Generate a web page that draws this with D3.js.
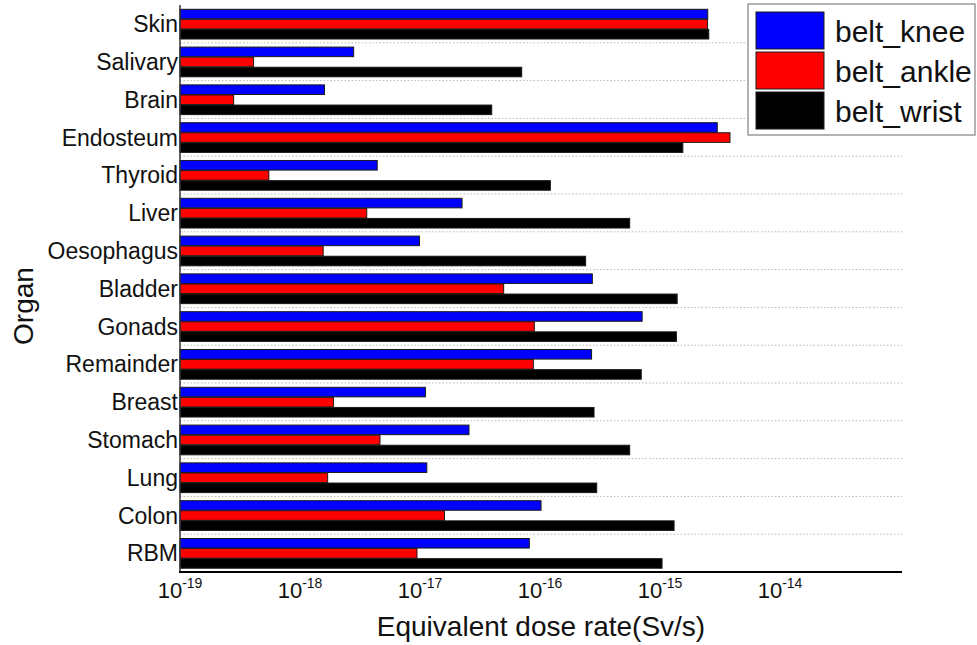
<!DOCTYPE html>
<html>
<head>
<meta charset="utf-8">
<script src="https://cdn.jsdelivr.net/npm/d3@7"></script>
<style>
  html, body { margin: 0; padding: 0; background: #fff; }
  svg { display: block; font-family: "Liberation Sans", Arial, sans-serif; }
</style>
</head>
<body>
<svg id="chart" width="977" height="645"></svg>
<script>
const organs = ["Skin","Salivary","Brain","Endosteum","Thyroid","Liver","Oesophagus","Bladder","Gonads","Remainder","Breast","Stomach","Lung","Colon","RBM"];
const seriesNames = ["belt_knee","belt_ankle","belt_wrist"];
const seriesColors = ["#0000ff","#ff0000","#000000"];
const beltKnee  = [2.5e-15, 2.8e-18, 1.6e-18, 3.0e-15, 4.4e-18, 2.24e-17, 9.9e-18, 2.73e-16, 7.1e-16, 2.69e-16, 1.11e-17, 2.56e-17, 1.14e-17, 1.02e-16, 8.15e-17];
const beltAnkle = [2.49e-15, 4.1e-19, 2.8e-19, 3.83e-15, 5.5e-19, 3.6e-18, 1.56e-18, 4.98e-17, 8.97e-17, 8.8e-17, 1.9e-18, 4.64e-18, 1.7e-18, 1.6e-17, 9.44e-18];
const beltWrist = [2.55e-15, 7.04e-17, 3.96e-17, 1.55e-15, 1.22e-16, 5.59e-16, 2.4e-16, 1.39e-15, 1.37e-15, 6.98e-16, 2.82e-16, 5.59e-16, 2.97e-16, 1.31e-15, 1.04e-15];
const tickExponents = [-19, -18, -17, -16, -15, -14];
const xTitle = "Equivalent dose rate(Sv/s)";
const yTitle = "Organ";

const seriesValues = [beltKnee, beltAnkle, beltWrist];
const svg = d3.select("#chart");

const x = d3.scaleLog().domain([1e-19, 1e-13]).range([180, 900]);
const y = d3.scaleBand().domain(organs).range([5, 572]).paddingInner(0.2).paddingOuter(0.1);
const ySub = d3.scaleBand().domain(seriesNames).range([0, y.bandwidth()]);

// dotted gridlines between groups
svg.append("g").selectAll("line")
  .data(organs.slice(1))
  .join("line")
  .attr("x1", 180).attr("x2", 902)
  .attr("y1", d => y(d) - y.step() * y.paddingInner() / 2)
  .attr("y2", d => y(d) - y.step() * y.paddingInner() / 2)
  .attr("stroke", "#b8b8b8")
  .attr("stroke-width", 1)
  .attr("stroke-dasharray", "1.5,2");

// bars
const groups = svg.append("g").selectAll("g")
  .data(organs)
  .join("g")
  .attr("transform", d => `translate(0,${y(d)})`);

groups.selectAll("rect")
  .data((d, i) => seriesNames.map((s, k) => ({ s, k, v: seriesValues[k][i] })))
  .join("rect")
  .attr("x", x(1e-19))
  .attr("y", d => ySub(d.s) + 0.5)
  .attr("width", d => x(d.v) - x(1e-19))
  .attr("height", ySub.bandwidth() - 0.5)
  .attr("fill", d => seriesColors[d.k])
  .attr("stroke", "#1a1a1a")
  .attr("stroke-width", 1);

// y axis line
svg.append("line")
  .attr("x1", 180).attr("x2", 180)
  .attr("y1", 5).attr("y2", 573)
  .attr("stroke", "#333").attr("stroke-width", 1.5);

// organ labels
svg.append("g").selectAll("text")
  .data(organs)
  .join("text")
  .attr("x", 178)
  .attr("y", d => y(d) + y.bandwidth() / 2)
  .attr("dy", "0.36em")
  .attr("text-anchor", "end")
  .attr("font-size", 23)
  .attr("fill", "#111")
  .text(d => d);

// x axis line
svg.append("line")
  .attr("x1", 179).attr("x2", 902)
  .attr("y1", 572).attr("y2", 572)
  .attr("stroke", "#000").attr("stroke-width", 2);

// x tick labels
const tl = svg.append("g").selectAll("text")
  .data(tickExponents)
  .join("text")
  .attr("x", d => x(Math.pow(10, d)))
  .attr("y", 598)
  .attr("text-anchor", "middle")
  .attr("font-size", 22)
  .attr("fill", "#111");
tl.append("tspan").text("10");
tl.append("tspan").attr("font-size", 14).attr("dy", -10).text(d => String(d));

// axis titles
svg.append("text")
  .attr("x", 541).attr("y", 636)
  .attr("text-anchor", "middle")
  .attr("font-size", 28)
  .attr("fill", "#111")
  .text(xTitle);

svg.append("text")
  .attr("transform", "translate(33,306) rotate(-90)")
  .attr("text-anchor", "middle")
  .attr("font-size", 28)
  .attr("fill", "#111")
  .text(yTitle);

// legend
const lg = svg.append("g");
lg.append("rect")
  .attr("x", 748).attr("y", 4).attr("width", 227).attr("height", 131)
  .attr("fill", "#fff").attr("stroke", "#9a9a9a").attr("stroke-width", 1.5);
const items = lg.selectAll("g")
  .data(seriesNames)
  .join("g")
  .attr("transform", (d, i) => `translate(0,${12 + i * 40})`);
items.append("rect")
  .attr("x", 756).attr("y", 0).attr("width", 68).attr("height", 37)
  .attr("fill", (d, i) => seriesColors[i])
  .attr("stroke", "#1a1a1a").attr("stroke-width", 1);
items.append("text")
  .attr("x", 835).attr("y", 30)
  .attr("font-size", 30)
  .attr("fill", "#111")
  .text(d => d);
</script>
</body>
</html>
